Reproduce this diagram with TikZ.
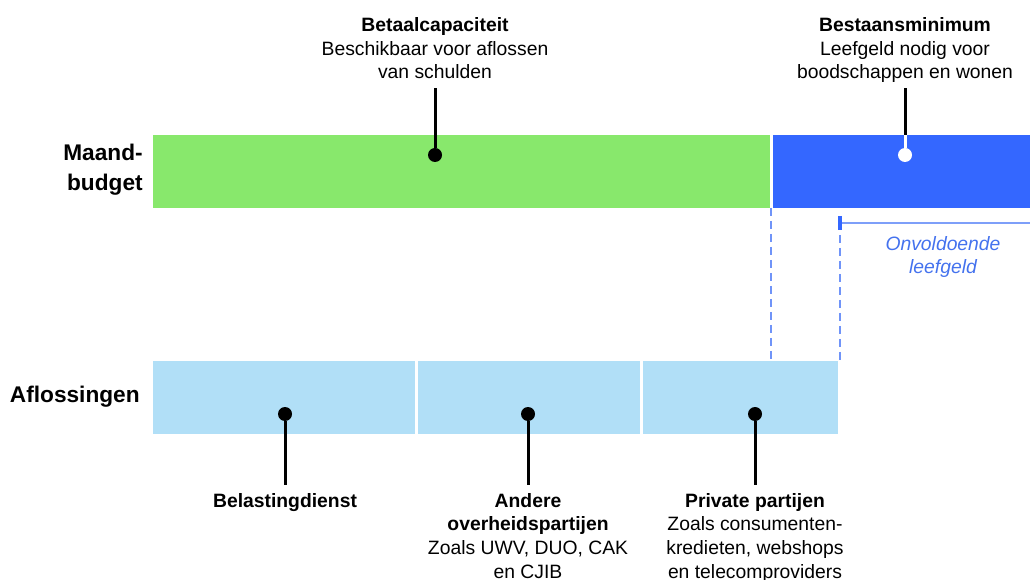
\documentclass[tikz,border=0pt]{standalone}
\usepackage{fontspec}
\setmainfont{Liberation Sans}
\usetikzlibrary{positioning}
\definecolor{kgreen}{HTML}{88E86C}
\definecolor{kblue}{HTML}{3467FF}
\definecolor{klight}{HTML}{B1DFF7}
\definecolor{kdashc}{HTML}{7094F8}
\definecolor{kital}{HTML}{4472EE}
\tikzset{
  bar/.style={rectangle,inner sep=0,draw=none,anchor=north west,minimum height={73*0.02cm}},
  dot/.style={circle,fill=black,inner sep=0,minimum size={14*0.02cm}},
  lbl/.style={align=center,inner sep=0,outer ysep={8*0.02cm},text depth=0pt},
  rij/.style={font=\fontsize{12.9}{17}\selectfont\bfseries,inner sep=0,anchor=east},
  stem/.style={line width={3*0.02cm}},
  kdash/.style={kdashc,line width={1.6*0.02cm},dash pattern=on {8*0.02cm} off {5*0.02cm}},
}
\begin{document}
\begin{tikzpicture}[x=0.02cm,y=-0.02cm,font=\fontsize{11}{13.5}\selectfont]
\useasboundingbox (0,0) rectangle (1030,580);
\pgfmathsetmacro{\ktop}{135}
\pgfmathsetmacro{\kbot}{361}
% balken maandbudget
\node[bar,fill=kgreen,minimum width={617*0.02cm}] (capaciteit) at (153,\ktop) {};
\node[bar,fill=kblue,minimum width={257*0.02cm}] (minimum) at (773,\ktop) {};
% balken aflossingen
\foreach \kn/\kx/\kw in {a1/153/262,a2/418/222,a3/643/195}{\node[bar,fill=klight,minimum width={\kw*0.02cm}] (\kn) at (\kx,\kbot) {};}
% rijlabels
\node[rij,align=right] (lbudget) at (143,170) {Maand-\\budget};
\node[rij] (laflos) at (140,397) {Aflossingen};
% bovenste labels
\node[dot] (d1) at (435,155) {};
\node[dot,fill=white] (d2) at (905,155) {};
\node[lbl,anchor=south,outer ysep={9*0.02cm}] (l1) at (435,88) {\textbf{Betaalcapaciteit}\\Beschikbaar voor aflossen\\van schulden};
\node[lbl,anchor=south,outer ysep={9*0.02cm}] (l2) at (905,88) {\textbf{Bestaansminimum}\\Leefgeld nodig voor\\boodschappen en wonen};
\draw[stem] (d1) -- (l1);
\draw[stem] (d2) -- (l2);
\draw[stem,white] (d2) -- (d2 |- minimum.north);
% onderste labels
\foreach \kn/\kx in {b1/285,b2/528,b3/755}{\node[dot] (\kn) at (\kx,414) {};}
\node[lbl,anchor=north] (m1) at (285,485) {\textbf{Belastingdienst}};
\node[lbl,anchor=north] (m2) at (528,485) {\textbf{Andere}\\\textbf{overheidspartijen}\\Zoals UWV, DUO, CAK\\en CJIB};
\node[lbl,anchor=north] (m3) at (755,485) {\textbf{Private partijen}\\Zoals consumenten-\\kredieten, webshops\\en telecomproviders};
\foreach \kn/\km in {b1/m1,b2/m2,b3/m3}{\draw[stem] (\kn) -- (\km);}
% tekort leefgeld
\coordinate (g1) at (771,208);
\coordinate (g2) at (840,222);
\coordinate (g3) at (1030,223);
\draw[kdash] (g1) -- (g1 |- a3.north);
\draw[kdash] (g2) -- (g2 |- a3.north);
\draw[kdashc!90,line width={2*0.02cm}] (840,223) -- (g3);
\draw[kblue,line width={3.5*0.02cm}] (840,216) -- (840,230);
\node[font=\fontsize{11}{13.6}\selectfont\itshape,text=kital,align=center] (tekort) at (943,257) {Onvoldoende\\leefgeld};
\end{tikzpicture}
\end{document}
